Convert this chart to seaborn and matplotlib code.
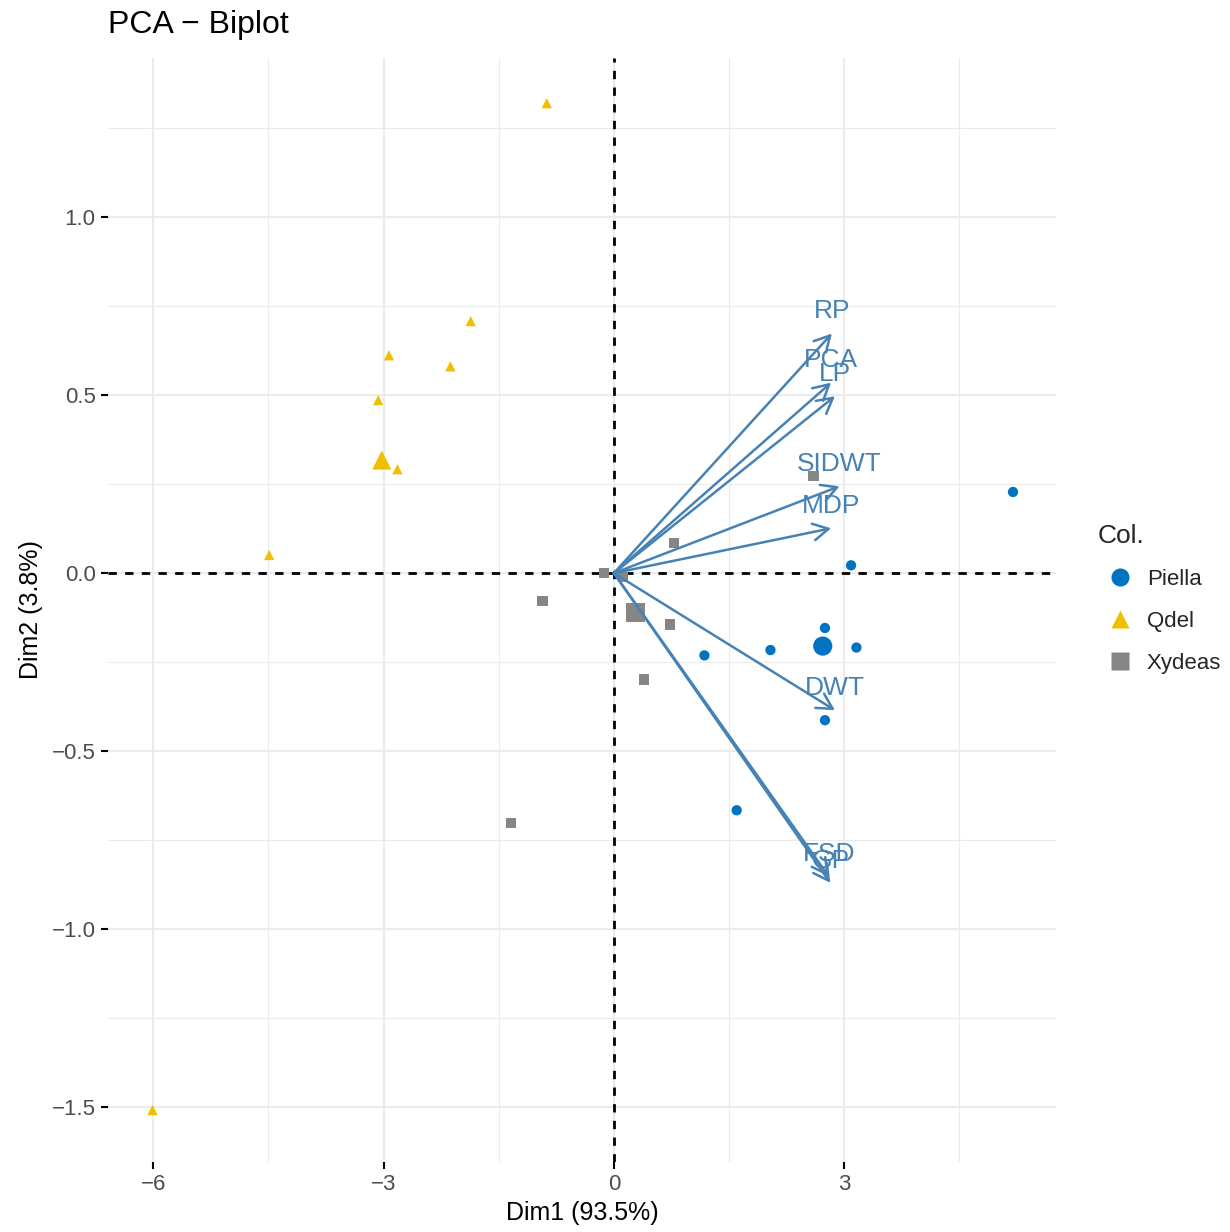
import numpy as np
import pandas as pd
import seaborn as sns
import matplotlib
matplotlib.use("Agg")
import matplotlib.pyplot as plt
from matplotlib.lines import Line2D

# ---- individuals ----
piella_dim1 = [5.20, 3.09, 2.75, 2.04, 3.16, 1.18, 2.75, 1.60]
piella_dim2 = [0.228, 0.022, -0.154, -0.216, -0.209, -0.231, -0.413, -0.666]
qdel_dim1 = [-0.874, -1.865, -2.93, -2.13, -3.07, -2.82, -4.49, -6.01]
qdel_dim2 = [1.320, 0.708, 0.612, 0.581, 0.486, 0.292, 0.051, -1.508]
xydeas_dim1 = [2.60, 0.78, -0.13, 0.12, -0.93, 0.73, 0.395, -1.34]
xydeas_dim2 = [0.272, 0.085, 0.000, -0.010, -0.079, -0.144, -0.299, -0.702]

groups = ["Piella", "Qdel", "Xydeas"]
group_colors = ["#0073C2", "#EFC000", "#868686"]
group_markers = ["o", "^", "s"]

# ---- variables (arrows) ----
var_names = ["RP", "PCA", "LP", "SIDWT", "MDP", "DWT", "FSD", "GP"]
var_dim1 = [2.84, 2.83, 2.88, 2.94, 2.83, 2.88, 2.80, 2.82]
var_dim2 = [0.673, 0.535, 0.497, 0.244, 0.126, -0.385, -0.852, -0.870]

x_ticks = [-6, -3, 0, 3]
y_ticks = [-1.5, -1.0, -0.5, 0.0, 0.5, 1.0]

df = pd.DataFrame({
    "Dim1": piella_dim1 + qdel_dim1 + xydeas_dim1,
    "Dim2": piella_dim2 + qdel_dim2 + xydeas_dim2,
    "Col.": ["Piella"] * len(piella_dim1) + ["Qdel"] * len(qdel_dim1) + ["Xydeas"] * len(xydeas_dim1),
})
centroids = df.groupby("Col.", as_index=False)[["Dim1", "Dim2"]].mean()

sns.set_theme(style="white")
plt.rcParams["font.family"] = ["Liberation Sans", "DejaVu Sans"]

fig = plt.figure(figsize=(12.3, 12.32), dpi=100)
ax = fig.add_axes([108 / 1230, 1 - 1162 / 1232, (1056 - 108) / 1230, (1162 - 58) / 1232])

pal = dict(zip(groups, group_colors))
mk = dict(zip(groups, group_markers))

# grid
ax.set_xlim(-6.59, 5.76)
ax.set_ylim(-1.654, 1.447)
ax.set_xticks(x_ticks)
ax.set_yticks(y_ticks)
ax.set_xticks([-4.5, -1.5, 1.5, 4.5], minor=True)
ax.set_yticks([-1.25, -0.75, -0.25, 0.25, 0.75, 1.25], minor=True)
ax.grid(which="major", color="#EBEBEB", lw=1.5)
ax.grid(which="minor", color="#EBEBEB", lw=0.8)
ax.set_axisbelow(True)
for s in ax.spines.values():
    s.set_visible(False)

ax.axhline(0, color="black", lw=2.0, ls=(0, (3, 3)), zorder=1)
ax.axvline(0, color="black", lw=2.0, ls=(0, (3, 3)), zorder=1)

sns.scatterplot(data=df, x="Dim1", y="Dim2", hue="Col.", style="Col.",
                palette=pal, markers=mk, s=55, edgecolor="none",
                legend=False, ax=ax, zorder=3)
sns.scatterplot(data=centroids, x="Dim1", y="Dim2", hue="Col.", style="Col.",
                palette=pal, markers=mk, s=190, edgecolor="none",
                legend=False, ax=ax, zorder=3)

for name, vx, vy in zip(var_names, var_dim1, var_dim2):
    ax.annotate("", xy=(vx, vy), xytext=(0, 0),
                arrowprops=dict(arrowstyle="->,head_length=0.55,head_width=0.3",
                                mutation_scale=20, color="#4682B4", lw=1.8,
                                shrinkA=0, shrinkB=0), zorder=4)
    ax.annotate(name, xy=(vx, vy), xytext=(0, 16), textcoords="offset points",
                ha="center", va="center", color="#4682B4", fontsize=19, zorder=5)

ax.tick_params(axis="both", which="major", length=5, width=1.5, color="black",
               labelsize=16, labelcolor="#4D4D4D", pad=4, bottom=True, left=True)
ax.tick_params(axis="both", which="minor", length=0)
ax.set_xticklabels(["\u22126", "\u22123", "0", "3"])
ax.set_yticklabels(["\u22121.5", "\u22121.0", "\u22120.5", "0.0", "0.5", "1.0"])

ax.set_xlabel("Dim1 (93.5%)", fontsize=18, color="black", labelpad=4)
ax.set_ylabel("Dim2 (3.8%)", fontsize=18, color="black", labelpad=6)
ax.set_title("PCA \u2212 Biplot", loc="left", fontsize=23, color="black", pad=18)

handles = [Line2D([0], [0], marker=m, color="none", markerfacecolor=c,
                  markeredgecolor="none", markersize=13, label=g)
           for g, c, m in zip(groups, group_colors, group_markers)]
leg = ax.legend(handles=handles, title="Col.", loc="center left",
                bbox_to_anchor=(1.035, 0.51), frameon=False, fontsize=16,
                title_fontsize=19, handletextpad=0.2, labelspacing=0.95,
                borderaxespad=0)
leg._legend_box.align = "left"

fig.savefig("out.png", dpi=100)
